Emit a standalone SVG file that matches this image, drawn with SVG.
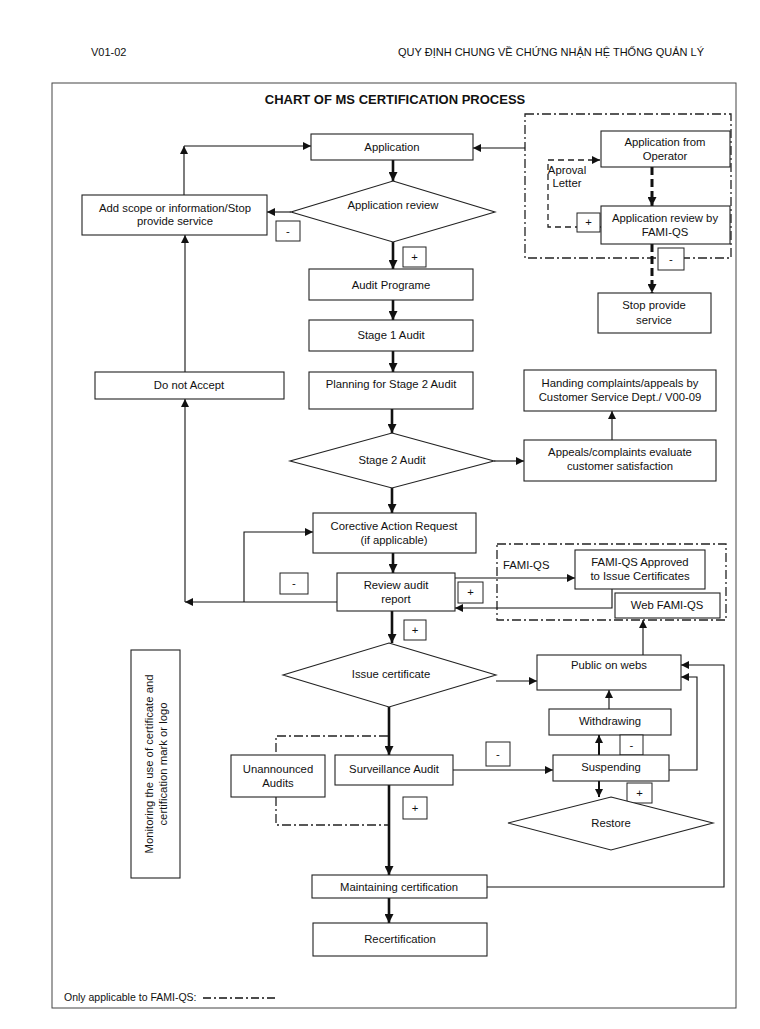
<svg xmlns="http://www.w3.org/2000/svg" width="760" height="1029" viewBox="0 0 760 1029">
<defs>
<marker id="ah" viewBox="0 0 10 10" refX="10" refY="5" markerUnits="userSpaceOnUse" markerWidth="9" markerHeight="8" orient="auto"><path d="M0,0 L10,5 L0,10 z" fill="#111"/></marker>
<marker id="ahb" viewBox="0 0 10 10" refX="10" refY="5" markerUnits="userSpaceOnUse" markerWidth="10" markerHeight="9" orient="auto"><path d="M0,0 L10,5 L0,10 z" fill="#111"/></marker>
<style>
text{font-family:"Liberation Sans",Arial,sans-serif;font-size:11.3px;fill:#111;text-anchor:middle}
.box{fill:#fff;stroke:#222;stroke-width:1.1}
.sm{fill:#fff;stroke:#222;stroke-width:1}
.c{fill:none;stroke:#111;stroke-width:1.1}
.cb{fill:none;stroke:#111;stroke-width:2.6}
.cm{fill:none;stroke:#111;stroke-width:2}
.dd{fill:none;stroke:#222;stroke-width:1.3;stroke-dasharray:9,3,2,3}
.dsh{fill:none;stroke:#222;stroke-width:1.3;stroke-dasharray:6,4}
.dthick{fill:none;stroke:#111;stroke-width:3;stroke-dasharray:8,4}
.hdr{font-size:11px}
.ttl{font-weight:bold;font-size:13px}
.lft{text-anchor:start}
.fn{font-size:10.5px}
</style>
</defs>
<rect width="760" height="1029" fill="#fff"/>
<text class="hdr lft" x="91" y="56">V01-02</text>
<text class="hdr lft" x="398" y="56">QUY ĐỊNH CHUNG VỀ CHỨNG NHẬN HỆ THỐNG QUẢN LÝ</text>
<rect x="52" y="83" width="684" height="925" fill="none" stroke="#444" stroke-width="1"/>
<text class="ttl" x="395" y="104">CHART OF MS CERTIFICATION PROCESS</text>

<g id="regions">
<rect class="dd" x="525" y="114" width="206" height="144"/>
<rect class="dd" x="497" y="544" width="229" height="76"/>
</g>

<g id="connectors">
<line class="cb" x1="393" y1="160" x2="393" y2="181" marker-end="url(#ahb)"/>
<line class="c" x1="525" y1="148" x2="473" y2="148" marker-end="url(#ah)"/>
<line class="c" x1="184" y1="195" x2="184" y2="146" marker-end="url(#ah)"/>
<line class="c" x1="184" y1="146" x2="311" y2="146" marker-end="url(#ah)"/>
<line class="c" x1="291" y1="212" x2="267" y2="212" marker-end="url(#ah)"/>
<line class="cb" x1="393" y1="242" x2="393" y2="269" marker-end="url(#ahb)"/>
<line class="cb" x1="393" y1="300" x2="393" y2="320" marker-end="url(#ahb)"/>
<line class="cb" x1="393" y1="351" x2="393" y2="372" marker-end="url(#ahb)"/>
<line class="c" x1="185" y1="372" x2="185" y2="235" marker-end="url(#ah)"/>
<line class="cb" x1="392" y1="409" x2="392" y2="433" marker-end="url(#ahb)"/>
<line class="c" x1="494" y1="461" x2="524" y2="461" marker-end="url(#ah)"/>
<line class="c" x1="612" y1="440" x2="612" y2="411" marker-end="url(#ah)"/>
<line class="cb" x1="392" y1="487" x2="392" y2="513" marker-end="url(#ahb)"/>
<line class="cb" x1="393" y1="553" x2="393" y2="573" marker-end="url(#ahb)"/>
<line class="c" x1="337" y1="602" x2="185" y2="602" marker-end="url(#ah)"/>
<line class="c" x1="185" y1="602" x2="185" y2="399" marker-end="url(#ah)"/>
<path class="c" d="M244,602 V532 H313" marker-end="url(#ah)"/>
<line class="c" x1="455" y1="578" x2="575" y2="578" marker-end="url(#ah)"/>
<path class="c" d="M612,589 V608 H455" marker-end="url(#ah)"/>
<line class="cb" x1="392" y1="611" x2="392" y2="643" marker-end="url(#ahb)"/>
<line class="c" x1="496" y1="681" x2="537" y2="681" marker-end="url(#ah)"/>
<line class="c" x1="643" y1="655" x2="643" y2="620" marker-end="url(#ah)"/>
<line class="c" x1="609" y1="709" x2="609" y2="690" marker-end="url(#ah)"/>
<line class="cm" x1="599" y1="755" x2="599" y2="735" marker-end="url(#ah)"/>
<line class="cm" x1="599" y1="781" x2="599" y2="797" marker-end="url(#ah)"/>
<path class="c" d="M669,770 H697 V677 H681" marker-end="url(#ah)"/>
<path class="c" d="M487,887 H724 V665 H681" marker-end="url(#ah)"/>
<line class="cb" x1="389" y1="707" x2="389" y2="755" marker-end="url(#ahb)"/>
<line class="c" x1="453" y1="770" x2="553" y2="770" marker-end="url(#ah)"/>
<line class="cb" x1="389" y1="785" x2="389" y2="875" marker-end="url(#ahb)"/>
<line class="cb" x1="389" y1="898" x2="389" y2="923" marker-end="url(#ahb)"/>
<path class="dd" d="M388,736 H276 V755"/>
<path class="dd" d="M276,797 V825 H388"/>
<line class="dthick" x1="652" y1="167" x2="652" y2="206" marker-end="url(#ahb)"/>
<line class="dthick" x1="652" y1="244" x2="652" y2="293" marker-end="url(#ahb)"/>
<path class="dsh" d="M601,227 H548 V160 H600" marker-end="url(#ah)"/>
</g>

<g id="application"><rect class="box" x="311" y="134" width="162" height="26"/><text x="392" y="151">Application</text></g>
<g id="application-review"><polygon class="box" points="393,181 495,212 393,242 291,212"/><text x="393" y="209">Application review</text></g>
<g id="add-scope"><rect class="box" x="82" y="195" width="185" height="40"/><text x="175" y="212">Add scope or information/Stop</text><text x="175" y="225">provide service</text></g>
<g id="minus-1"><rect class="sm" x="276" y="221" width="24" height="20"/><text x="288" y="235">-</text></g>
<g id="plus-1"><rect class="sm" x="403" y="247" width="23" height="20"/><text x="414.5" y="261">+</text></g>
<g id="app-from-operator"><rect class="box" x="601" y="131" width="129" height="36"/><text x="665" y="146">Application from</text><text x="665" y="160">Operator</text></g>
<g id="app-review-fami"><rect class="box" x="601" y="206" width="129" height="38"/><text x="665" y="222">Application review by</text><text x="665" y="236">FAMI-QS</text></g>
<g id="aproval-letter"><text x="567" y="174">Aproval</text><text x="567" y="187">Letter</text></g>
<g id="plus-2"><rect class="sm" x="577" y="213" width="23" height="19"/><text x="588.5" y="226">+</text></g>
<g id="minus-2"><rect class="sm" x="658" y="248" width="26" height="22"/><text x="671" y="263">-</text></g>
<g id="stop-service"><rect class="box" x="598" y="293" width="113" height="40"/><text x="654" y="309">Stop provide</text><text x="654" y="324">service</text></g>
<g id="audit-programe"><rect class="box" x="309" y="269" width="164" height="31"/><text x="391" y="289">Audit Programe</text></g>
<g id="stage1"><rect class="box" x="309" y="320" width="164" height="31"/><text x="391" y="339">Stage 1 Audit</text></g>
<g id="do-not-accept"><rect class="box" x="95" y="372" width="189" height="27"/><text x="189" y="389">Do not Accept</text></g>
<g id="planning"><rect class="box" x="309" y="372" width="164" height="37"/><text x="391" y="388">Planning for Stage 2 Audit</text></g>
<g id="handing"><rect class="box" x="524" y="370" width="192" height="41"/><text x="620" y="387">Handing complaints/appeals by</text><text x="620" y="401">Customer Service Dept./ V00-09</text></g>
<g id="stage2"><polygon class="box" points="392,433 494,461 392,488 290,461"/><text x="392" y="464">Stage 2 Audit</text></g>
<g id="appeals"><rect class="box" x="524" y="440" width="192" height="41"/><text x="620" y="456">Appeals/complaints evaluate</text><text x="620" y="470">customer satisfaction</text></g>
<g id="corrective"><rect class="box" x="313" y="513" width="163" height="40"/><text x="394" y="530">Corective Action Request</text><text x="394" y="544">(if applicable)</text></g>
<g id="review-audit"><rect class="box" x="337" y="573" width="118" height="38"/><text x="396" y="589">Review audit</text><text x="396" y="603">report</text></g>
<g id="minus-3"><rect class="sm" x="280" y="573" width="28" height="21"/><text x="294" y="587">-</text></g>
<g id="plus-3"><rect class="sm" x="458" y="582" width="25" height="21"/><text x="470.5" y="596">+</text></g>
<g id="fami-label"><text class="lft" x="503" y="569">FAMI-QS</text></g>
<g id="fami-approved"><rect class="box" x="575" y="550" width="130" height="39"/><text x="640" y="566">FAMI-QS Approved</text><text x="640" y="580">to Issue Certificates</text></g>
<g id="web-fami"><rect class="box" x="615" y="593" width="105" height="25"/><text x="667" y="609">Web FAMI-QS</text></g>
<g id="plus-4"><rect class="sm" x="404" y="620" width="22" height="20"/><text x="415" y="634">+</text></g>
<g id="monitoring"><rect class="box" x="131" y="650" width="49" height="228"/><g transform="translate(155,764) rotate(-90)"><text x="0" y="-2">Monitoring the use of certificate and</text><text x="0" y="12">certification mark or logo</text></g></g>
<g id="issue-certificate"><polygon class="box" points="389,643 496,675 389,707 283,675"/><text x="391" y="678">Issue certificate</text></g>
<g id="public-webs"><rect class="box" x="537" y="655" width="144" height="35"/><text x="609" y="669">Public on webs</text></g>
<g id="withdrawing"><rect class="box" x="549" y="709" width="122" height="26"/><text x="610" y="725">Withdrawing</text></g>
<g id="minus-4"><rect class="sm" x="620" y="735" width="23" height="20"/><text x="631.5" y="749">-</text></g>
<g id="suspending"><rect class="box" x="553" y="755" width="116" height="26"/><text x="611" y="771">Suspending</text></g>
<g id="plus-5"><rect class="sm" x="627" y="783" width="25" height="20"/><text x="639.5" y="797">+</text></g>
<g id="restore"><polygon class="box" points="611,797 713,823 611,850 508,823"/><text x="611" y="827">Restore</text></g>
<g id="surveillance"><rect class="box" x="335" y="755" width="118" height="30"/><text x="394" y="773">Surveillance Audit</text></g>
<g id="minus-5"><rect class="sm" x="486" y="742" width="24" height="24"/><text x="498" y="758">-</text></g>
<g id="unannounced"><rect class="box" x="231" y="755" width="94" height="42"/><text x="278" y="773">Unannounced</text><text x="278" y="787">Audits</text></g>
<g id="plus-6"><rect class="sm" x="403" y="797" width="24" height="22"/><text x="415" y="812">+</text></g>
<g id="maintaining"><rect class="box" x="312" y="875" width="175" height="23"/><text x="399" y="891">Maintaining certification</text></g>
<g id="recertification"><rect class="box" x="313" y="923" width="174" height="33"/><text x="400" y="943">Recertification</text></g>
<g id="footnote"><text class="lft fn" x="64" y="1001">Only applicable to FAMI-QS:</text><line x1="203" y1="998" x2="278" y2="998" stroke="#111" stroke-width="1.6" stroke-dasharray="8,3,2,3"/></g>
</svg>
